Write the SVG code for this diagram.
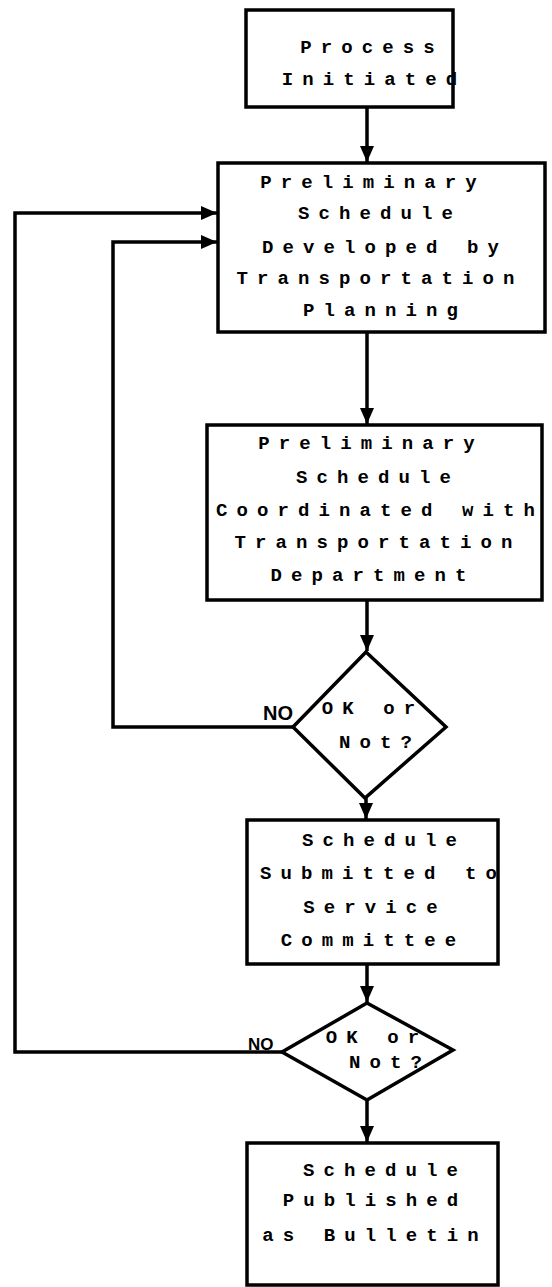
<svg xmlns="http://www.w3.org/2000/svg" width="552" height="1287" viewBox="0 0 552 1287">
<style>
.box{fill:#fff;stroke:#000;stroke-width:3.5}
.ln{fill:none;stroke:#000;stroke-width:3.5}
.t{font-family:"Liberation Mono",monospace;font-size:19px;font-weight:bold;letter-spacing:9.1px;text-anchor:middle;fill:#000}
.no{font-family:"Liberation Sans",Arial,sans-serif;font-weight:bold;text-anchor:start;fill:#000}
</style>
<defs>
<marker id="ah" markerUnits="userSpaceOnUse" markerWidth="18" markerHeight="16" refX="16" refY="8" orient="auto">
<path d="M0,1 L16,8 L0,15 Z" fill="#000"/>
</marker>
</defs>
<rect width="552" height="1287" fill="#fff"/>
<g id="connectors">
<line class="ln" x1="367" y1="107" x2="367" y2="162" marker-end="url(#ah)"/>
<line class="ln" x1="367" y1="332" x2="367" y2="424" marker-end="url(#ah)"/>
<line class="ln" x1="367" y1="600" x2="367" y2="651" marker-end="url(#ah)"/>
<line class="ln" x1="366" y1="798" x2="366" y2="819" marker-end="url(#ah)"/>
<line class="ln" x1="367" y1="964" x2="367" y2="1002" marker-end="url(#ah)"/>
<line class="ln" x1="367" y1="1100" x2="367" y2="1142" marker-end="url(#ah)"/>
<polyline class="ln" points="293,727 113,727 113,242 217,242" marker-end="url(#ah)"/>
<polyline class="ln" points="282,1052 15,1052 15,213 217,213" marker-end="url(#ah)"/>
<text class="no" x="263" y="720" font-size="20">NO</text>
<text class="no" x="248" y="1050" font-size="17">NO</text>
</g>
<g id="n1">
<rect class="box" x="246" y="10" width="207" height="97"/>
<text class="t" x="372" y="53">Process</text>
<text class="t" x="374" y="85">Initiated</text>
</g>
<g id="n2">
<rect class="box" x="218" y="163" width="327" height="169"/>
<text class="t" x="373" y="188">Preliminary</text>
<text class="t" x="380" y="219">Schedule</text>
<text class="t" x="385" y="253">Developed by</text>
<text class="t" x="380" y="284">Transportation</text>
<text class="t" x="385" y="316">Planning</text>
</g>
<g id="n3">
<rect class="box" x="207" y="425" width="335" height="175"/>
<text class="t" x="371" y="449">Preliminary</text>
<text class="t" x="378" y="483">Schedule</text>
<text class="t" x="380" y="516">Coordinated with</text>
<text class="t" x="378" y="548">Transportation</text>
<text class="t" x="373" y="581">Department</text>
</g>
<g id="d1">
<polygon class="box" points="366,652 446,727 365,798 293,727"/>
<text class="t" x="373" y="714">OK or</text>
<text class="t" x="380" y="748">Not?</text>
</g>
<g id="n4">
<rect class="box" x="247" y="820" width="251" height="144"/>
<text class="t" x="384" y="846">Schedule</text>
<text class="t" x="383" y="879">Submitted to</text>
<text class="t" x="375" y="913">Service</text>
<text class="t" x="373" y="946">Committee</text>
</g>
<g id="d2">
<polygon class="box" points="367,1003 453,1050 367,1100 282,1052"/>
<text class="t" x="377" y="1043">OK or</text>
<text class="t" x="390" y="1068">Not?</text>
</g>
<g id="n5">
<rect class="box" x="247" y="1143" width="251" height="142"/>
<text class="t" x="385" y="1176">Schedule</text>
<text class="t" x="375" y="1206">Published</text>
<text class="t" x="375" y="1241">as Bulletin</text>
</g>
</svg>
